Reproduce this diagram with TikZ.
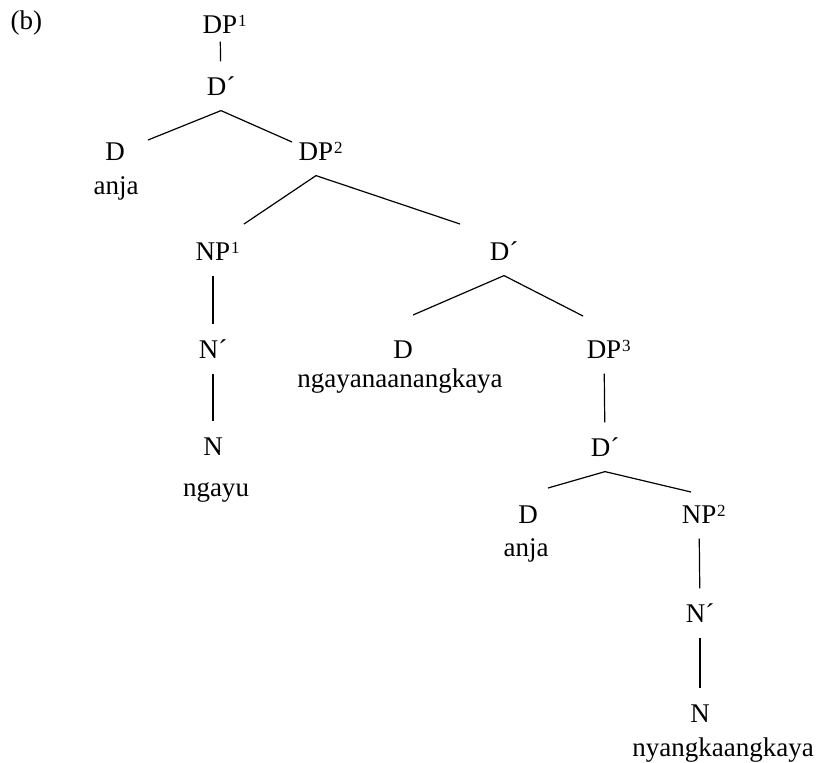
\documentclass[tikz,border=0pt]{standalone}
\usepackage{fontspec}
\setmainfont{Liberation Serif}
\usetikzlibrary{positioning}
% small index numbers set beside a category, top at cap height
\def\idx#1{\rlap{\kern0.4pt\raisebox{3.4pt}{\fontsize{8.5}{9}\selectfont #1}}}

\begin{document}
\begin{tikzpicture}[x=0.5pt,y=-0.5pt,line width=0.6pt,font=\fontsize{13.5}{16}\selectfont]
    \tikzstyle{cat}=[inner xsep=1pt, inner ysep=7.5pt, text height=9pt, text depth=0pt]
    \tikzstyle{word}=[inner sep=0pt, anchor=base]

    \useasboundingbox (0,0) rectangle (817,762);

    \node[word, anchor=base west] (lbl) at (10,29) {(b)};

    % the category labels of the tree
    \node[cat, inner ysep=4pt] (DP-1) at (220,24) {DP\idx{1}};
    \node[cat] (Db-1) at (221,86) {D´};
    \node[cat] (D-1) at (115,151) {D};
    \node[cat] (DP-2) at (316,151) {DP\idx{2}};
    \node[cat] (NP-1) at (213,251) {NP\idx{1}};
    \node[cat] (Db-2) at (504,251) {D´};
    \node[cat] (Nb-1) at (213,349) {N´};
    \node[cat] (D-2) at (403,349) {D};
    \node[cat] (DP-3) at (604,349) {DP\idx{3}};
    \node[cat] (N-1) at (213,446) {N};
    \node[cat] (Db-3) at (605,447) {D´};
    \node[cat] (D-3) at (528,514) {D};
    \node[cat] (NP-2) at (699,514) {NP\idx{2}};
    \node[cat] (Nb-2) at (700,613) {N´};
    \node[cat] (N-2) at (700,713) {N};

    % the words under the heads
    \node[word] (w-1) at (116,194) {anja};
    \node[word] (w-2) at (400,387) {ngayanaanangkaya};
    \node[word] (w-3) at (216,496) {ngayu};
    \node[word] (w-4) at (526,556) {anja};
    \node[word] (w-5) at (723,756) {nyangkaangkaya};

    % non-branching lines
    \foreach \a/\b in {DP-1/Db-1, NP-1/Nb-1, Nb-1/N-1, DP-3/Db-3, NP-2/Nb-2, Nb-2/N-2}
        \draw (\a) -- (\b);

    % branching lines, the lower end is pulled off the daughter
    \foreach \a/\b/\dx/\dy in {Db-1/D-1/16.5/5.5, Db-1/DP-2/-12/4.5, DP-2/NP-1/15.5/13.5, DP-2/Db-2/-22/13.5,
                              Db-2/D-2/5/17, Db-2/DP-3/-10.5/16.5, Db-3/D-3/10/13, Db-3/NP-2/-4/11}
        \draw (\a.south) -- ([xshift=\dx pt, yshift=\dy pt]\b.center);
\end{tikzpicture}
\end{document}
